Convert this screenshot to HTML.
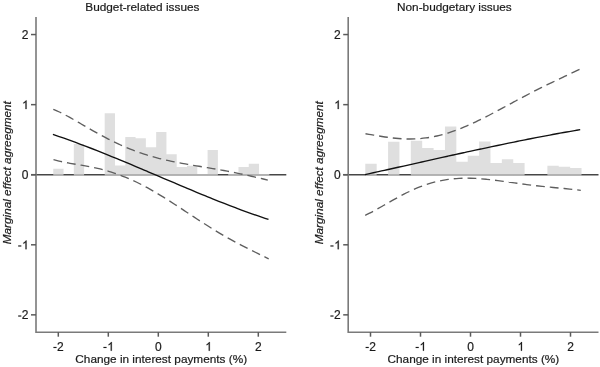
<!DOCTYPE html>
<html><head><meta charset="utf-8"><style>html,body{margin:0;padding:0;background:#fff;width:600px;height:367px;overflow:hidden}svg{display:block;will-change:transform}text{stroke:#1a1a1a;stroke-width:0.2px}</style></head>
<body><svg width="600" height="367" viewBox="0 0 600 367">
<rect width="600" height="367" fill="#fff"/>
<text x="85.3" y="10.7" font-family="Liberation Sans" font-size="11.8" fill="#1a1a1a">Budget-related issues</text>
<text x="397" y="10.7" font-family="Liberation Sans" font-size="11.8" fill="#1a1a1a">Non-budgetary issues</text>
<line x1="31" y1="174.7" x2="286.3" y2="174.7" stroke="#474747" stroke-width="1.5"/>
<path d="M53.25 168.80H63.54V175.50H53.25ZM73.83 143.90H84.12V175.50H73.83ZM104.70 113.20H114.99V175.50H104.70ZM114.99 165.40H125.28V175.50H114.99ZM125.28 137.10H135.57V175.50H125.28ZM135.57 138.30H145.86V175.50H135.57ZM145.86 147.20H156.15V175.50H145.86ZM156.15 132.00H166.44V175.50H156.15ZM166.44 154.30H176.73V175.50H166.44ZM176.73 166.90H187.02V175.50H176.73ZM187.02 165.80H197.31V175.50H187.02ZM197.31 174.00H207.60V175.50H197.31ZM207.60 150.00H217.89V175.50H207.60ZM228.18 174.00H238.47V175.50H228.18ZM238.47 167.00H248.76V175.50H238.47ZM248.76 163.80H259.05V175.50H248.76ZM259.05 174.00H269.34V175.50H259.05Z" fill="#d4d4d4" fill-opacity="0.75"/>
<path d="M36 17 V332.2 H286.3" fill="none" stroke="#7a7a7a" stroke-width="1.6"/>
<line x1="31" y1="34.55" x2="36" y2="34.55" stroke="#5a5a5a" stroke-width="1.5"/>
<text x="21.726" y="38.949999999999996" font-family="Liberation Sans" font-size="12.0" fill="#1a1a1a">2</text>
<line x1="31" y1="104.65" x2="36" y2="104.65" stroke="#5a5a5a" stroke-width="1.5"/>
<path d="M763 0H583V1147Q518 1085 413 1023Q308 961 224 930V1104Q375 1175 488 1276Q601 1377 648 1472H763Z" fill="#1a1a1a" stroke="#1a1a1a" stroke-width="40" stroke-linejoin="round" transform="translate(22.076 109.050) scale(0.005859 -0.005859)"/>
<line x1="31" y1="174.7" x2="36" y2="174.7" stroke="#5a5a5a" stroke-width="1.5"/>
<text x="21.726" y="179.1" font-family="Liberation Sans" font-size="12.0" fill="#1a1a1a">0</text>
<line x1="31" y1="244.8" x2="36" y2="244.8" stroke="#5a5a5a" stroke-width="1.5"/>
<rect x="18.170" y="245.391" width="3.164" height="1.172" fill="#1a1a1a"/><path d="M763 0H583V1147Q518 1085 413 1023Q308 961 224 930V1104Q375 1175 488 1276Q601 1377 648 1472H763Z" fill="#1a1a1a" stroke="#1a1a1a" stroke-width="40" stroke-linejoin="round" transform="translate(22.076 249.200) scale(0.005859 -0.005859)"/>
<line x1="31" y1="314.85" x2="36" y2="314.85" stroke="#5a5a5a" stroke-width="1.5"/>
<rect x="18.170" y="315.441" width="3.164" height="1.172" fill="#1a1a1a"/><text x="21.726" y="319.25" font-family="Liberation Sans" font-size="12.0" fill="#1a1a1a">2</text>
<line x1="58.3" y1="332.2" x2="58.3" y2="336.7" stroke="#5a5a5a" stroke-width="1.5"/>
<rect x="53.404" y="346.891" width="3.164" height="1.172" fill="#1a1a1a"/><text x="56.961" y="350.7" font-family="Liberation Sans" font-size="12.0" fill="#1a1a1a">2</text>
<line x1="108.3" y1="332.2" x2="108.3" y2="336.7" stroke="#5a5a5a" stroke-width="1.5"/>
<rect x="103.404" y="346.891" width="3.164" height="1.172" fill="#1a1a1a"/><path d="M763 0H583V1147Q518 1085 413 1023Q308 961 224 930V1104Q375 1175 488 1276Q601 1377 648 1472H763Z" fill="#1a1a1a" stroke="#1a1a1a" stroke-width="40" stroke-linejoin="round" transform="translate(107.311 350.700) scale(0.005859 -0.005859)"/>
<line x1="158.3" y1="332.2" x2="158.3" y2="336.7" stroke="#5a5a5a" stroke-width="1.5"/>
<text x="154.963" y="350.7" font-family="Liberation Sans" font-size="12.0" fill="#1a1a1a">0</text>
<line x1="208.3" y1="332.2" x2="208.3" y2="336.7" stroke="#5a5a5a" stroke-width="1.5"/>
<path d="M763 0H583V1147Q518 1085 413 1023Q308 961 224 930V1104Q375 1175 488 1276Q601 1377 648 1472H763Z" fill="#1a1a1a" stroke="#1a1a1a" stroke-width="40" stroke-linejoin="round" transform="translate(205.313 350.700) scale(0.005859 -0.005859)"/>
<line x1="258.3" y1="332.2" x2="258.3" y2="336.7" stroke="#5a5a5a" stroke-width="1.5"/>
<text x="254.963" y="350.7" font-family="Liberation Sans" font-size="12.0" fill="#1a1a1a">2</text>
<path d="M53.30 109.27 C54.22 109.68 56.97 110.88 58.80 111.75 C60.63 112.62 62.47 113.55 64.30 114.51 C66.13 115.46 67.97 116.45 69.80 117.46 C71.63 118.47 73.47 119.51 75.30 120.55 C77.13 121.59 78.97 122.65 80.80 123.71 C82.63 124.76 84.47 125.83 86.30 126.89 C88.13 127.95 89.97 129.01 91.80 130.05 C93.63 131.09 95.47 132.13 97.30 133.15 C99.13 134.17 100.97 135.17 102.80 136.16 C104.63 137.14 106.47 138.11 108.30 139.05 C110.13 139.99 111.97 140.91 113.80 141.81 C115.63 142.70 117.47 143.57 119.30 144.41 C121.13 145.25 122.97 146.07 124.80 146.86 C126.63 147.64 128.47 148.40 130.30 149.14 C132.13 149.87 133.97 150.57 135.80 151.25 C137.63 151.92 139.47 152.57 141.30 153.19 C143.13 153.81 144.97 154.41 146.80 154.98 C148.63 155.55 150.47 156.09 152.30 156.61 C154.13 157.13 155.97 157.63 157.80 158.10 C159.63 158.58 161.47 159.03 163.30 159.46 C165.13 159.90 166.97 160.31 168.80 160.71 C170.63 161.11 172.47 161.49 174.30 161.86 C176.13 162.23 177.97 162.59 179.80 162.93 C181.63 163.28 183.47 163.61 185.30 163.94 C187.13 164.26 188.97 164.58 190.80 164.89 C192.63 165.21 194.47 165.51 196.30 165.82 C198.13 166.12 199.97 166.43 201.80 166.73 C203.63 167.03 205.47 167.34 207.30 167.64 C209.13 167.95 210.97 168.26 212.80 168.57 C214.63 168.89 216.47 169.21 218.30 169.53 C220.13 169.86 221.97 170.19 223.80 170.53 C225.63 170.87 227.47 171.21 229.30 171.57 C231.13 171.92 232.97 172.29 234.80 172.66 C236.63 173.03 238.47 173.41 240.30 173.80 C242.13 174.19 243.97 174.59 245.80 174.99 C247.63 175.40 249.47 175.81 251.30 176.23 C253.13 176.64 254.97 177.07 256.80 177.49 C258.63 177.92 260.47 178.35 262.30 178.77 C264.13 179.20 266.88 179.84 267.80 180.05" fill="none" stroke="#5e5e5e" stroke-width="1.35" stroke-dasharray="8.8 5"/>
<path d="M53.50 159.67 C54.42 159.91 57.18 160.66 59.02 161.10 C60.86 161.53 62.70 161.91 64.54 162.28 C66.38 162.65 68.21 162.98 70.05 163.31 C71.89 163.64 73.73 163.95 75.57 164.26 C77.41 164.57 79.25 164.88 81.09 165.19 C82.93 165.51 84.77 165.83 86.61 166.17 C88.45 166.51 90.29 166.85 92.13 167.23 C93.96 167.60 95.80 168.00 97.64 168.42 C99.48 168.84 101.32 169.29 103.16 169.76 C105.00 170.24 106.84 170.75 108.68 171.29 C110.52 171.83 112.36 172.41 114.20 173.02 C116.04 173.63 117.88 174.27 119.72 174.95 C121.55 175.63 123.39 176.35 125.23 177.10 C127.07 177.85 128.91 178.63 130.75 179.45 C132.59 180.27 134.43 181.13 136.27 182.01 C138.11 182.90 139.95 183.82 141.79 184.77 C143.63 185.72 145.47 186.70 147.31 187.71 C149.14 188.72 150.98 189.76 152.82 190.81 C154.66 191.87 156.50 192.96 158.34 194.06 C160.18 195.17 162.02 196.30 163.86 197.44 C165.70 198.58 167.54 199.74 169.38 200.91 C171.22 202.09 173.06 203.27 174.89 204.47 C176.73 205.66 178.57 206.86 180.41 208.07 C182.25 209.28 184.09 210.49 185.93 211.70 C187.77 212.91 189.61 214.13 191.45 215.34 C193.29 216.54 195.13 217.75 196.97 218.95 C198.81 220.15 200.65 221.34 202.48 222.52 C204.32 223.70 206.16 224.88 208.00 226.03 C209.84 227.19 211.68 228.34 213.52 229.47 C215.36 230.60 217.20 231.71 219.04 232.81 C220.88 233.91 222.72 234.99 224.56 236.05 C226.40 237.11 228.24 238.16 230.07 239.18 C231.91 240.21 233.75 241.22 235.59 242.21 C237.43 243.20 239.27 244.17 241.11 245.13 C242.95 246.09 244.79 247.03 246.63 247.96 C248.47 248.89 250.31 249.80 252.15 250.71 C253.99 251.62 255.82 252.51 257.66 253.41 C259.50 254.30 261.34 255.19 263.18 256.08 C265.02 256.98 267.78 258.32 268.70 258.77" fill="none" stroke="#5e5e5e" stroke-width="1.35" stroke-dasharray="8.8 5"/>
<path d="M52.90 134.40 C53.82 134.72 56.59 135.65 58.43 136.28 C60.27 136.92 62.11 137.56 63.96 138.21 C65.80 138.86 67.64 139.52 69.48 140.18 C71.33 140.85 73.17 141.52 75.01 142.20 C76.86 142.88 78.70 143.57 80.54 144.26 C82.38 144.96 84.23 145.66 86.07 146.36 C87.91 147.07 89.75 147.78 91.60 148.50 C93.44 149.22 95.28 149.94 97.13 150.67 C98.97 151.39 100.81 152.13 102.65 152.87 C104.50 153.60 106.34 154.35 108.18 155.09 C110.02 155.84 111.87 156.59 113.71 157.35 C115.55 158.10 117.40 158.86 119.24 159.62 C121.08 160.38 122.92 161.15 124.77 161.91 C126.61 162.68 128.45 163.45 130.29 164.23 C132.14 165.00 133.98 165.77 135.82 166.55 C137.67 167.33 139.51 168.11 141.35 168.89 C143.19 169.67 145.04 170.45 146.88 171.23 C148.72 172.02 150.56 172.80 152.41 173.59 C154.25 174.37 156.09 175.15 157.94 175.94 C159.78 176.72 161.62 177.51 163.46 178.29 C165.31 179.08 167.15 179.86 168.99 180.65 C170.84 181.43 172.68 182.21 174.52 182.99 C176.36 183.78 178.21 184.56 180.05 185.33 C181.89 186.11 183.73 186.89 185.58 187.66 C187.42 188.44 189.26 189.21 191.11 189.98 C192.95 190.75 194.79 191.51 196.63 192.28 C198.48 193.04 200.32 193.80 202.16 194.56 C204.00 195.31 205.85 196.07 207.69 196.82 C209.53 197.57 211.38 198.31 213.22 199.05 C215.06 199.79 216.90 200.53 218.75 201.26 C220.59 201.99 222.43 202.72 224.27 203.44 C226.12 204.16 227.96 204.87 229.80 205.58 C231.65 206.29 233.49 207.00 235.33 207.69 C237.17 208.39 239.02 209.08 240.86 209.76 C242.70 210.45 244.54 211.13 246.39 211.80 C248.23 212.46 250.07 213.13 251.92 213.78 C253.76 214.44 255.60 215.08 257.44 215.72 C259.29 216.36 261.13 216.99 262.97 217.62 C264.81 218.24 267.58 219.15 268.50 219.46" fill="none" stroke="#111" stroke-width="1.35"/>
<text x="75.3" y="362.6" font-family="Liberation Sans" font-size="11.8" fill="#1a1a1a">Change in interest payments (%)</text>
<text x="10.9" y="244.2" font-family="Liberation Sans" font-size="11.75" font-style="italic" fill="#1a1a1a" transform="rotate(-90 10.9 244.2)">Marginal effect agreegment</text>
<line x1="343.2" y1="174.7" x2="598.5" y2="174.7" stroke="#474747" stroke-width="1.5"/>
<path d="M365.30 163.80H376.68V175.50H365.30ZM388.06 141.80H399.44V175.50H388.06ZM410.82 140.80H422.20V175.50H410.82ZM422.20 148.10H433.58V175.50H422.20ZM433.58 149.90H444.96V175.50H433.58ZM444.96 126.50H456.34V175.50H444.96ZM456.34 161.70H467.72V175.50H456.34ZM467.72 155.70H479.10V175.50H467.72ZM479.10 141.60H490.48V175.50H479.10ZM490.48 162.90H501.86V175.50H490.48ZM501.86 159.20H513.24V175.50H501.86ZM513.24 163.00H524.62V175.50H513.24ZM547.38 165.80H558.76V175.50H547.38ZM558.76 166.70H570.14V175.50H558.76ZM570.14 168.00H581.52V175.50H570.14Z" fill="#d4d4d4" fill-opacity="0.75"/>
<path d="M348.2 17 V332.2 H598.5" fill="none" stroke="#7a7a7a" stroke-width="1.6"/>
<line x1="343.2" y1="34.55" x2="348.2" y2="34.55" stroke="#5a5a5a" stroke-width="1.5"/>
<text x="333.926" y="38.949999999999996" font-family="Liberation Sans" font-size="12.0" fill="#1a1a1a">2</text>
<line x1="343.2" y1="104.65" x2="348.2" y2="104.65" stroke="#5a5a5a" stroke-width="1.5"/>
<path d="M763 0H583V1147Q518 1085 413 1023Q308 961 224 930V1104Q375 1175 488 1276Q601 1377 648 1472H763Z" fill="#1a1a1a" stroke="#1a1a1a" stroke-width="40" stroke-linejoin="round" transform="translate(334.276 109.050) scale(0.005859 -0.005859)"/>
<line x1="343.2" y1="174.7" x2="348.2" y2="174.7" stroke="#5a5a5a" stroke-width="1.5"/>
<text x="333.926" y="179.1" font-family="Liberation Sans" font-size="12.0" fill="#1a1a1a">0</text>
<line x1="343.2" y1="244.8" x2="348.2" y2="244.8" stroke="#5a5a5a" stroke-width="1.5"/>
<rect x="330.370" y="245.391" width="3.164" height="1.172" fill="#1a1a1a"/><path d="M763 0H583V1147Q518 1085 413 1023Q308 961 224 930V1104Q375 1175 488 1276Q601 1377 648 1472H763Z" fill="#1a1a1a" stroke="#1a1a1a" stroke-width="40" stroke-linejoin="round" transform="translate(334.276 249.200) scale(0.005859 -0.005859)"/>
<line x1="343.2" y1="314.85" x2="348.2" y2="314.85" stroke="#5a5a5a" stroke-width="1.5"/>
<rect x="330.370" y="315.441" width="3.164" height="1.172" fill="#1a1a1a"/><text x="333.926" y="319.25" font-family="Liberation Sans" font-size="12.0" fill="#1a1a1a">2</text>
<line x1="370.5" y1="332.2" x2="370.5" y2="336.7" stroke="#5a5a5a" stroke-width="1.5"/>
<rect x="365.604" y="346.891" width="3.164" height="1.172" fill="#1a1a1a"/><text x="369.161" y="350.7" font-family="Liberation Sans" font-size="12.0" fill="#1a1a1a">2</text>
<line x1="420.5" y1="332.2" x2="420.5" y2="336.7" stroke="#5a5a5a" stroke-width="1.5"/>
<rect x="415.604" y="346.891" width="3.164" height="1.172" fill="#1a1a1a"/><path d="M763 0H583V1147Q518 1085 413 1023Q308 961 224 930V1104Q375 1175 488 1276Q601 1377 648 1472H763Z" fill="#1a1a1a" stroke="#1a1a1a" stroke-width="40" stroke-linejoin="round" transform="translate(419.511 350.700) scale(0.005859 -0.005859)"/>
<line x1="470.5" y1="332.2" x2="470.5" y2="336.7" stroke="#5a5a5a" stroke-width="1.5"/>
<text x="467.163" y="350.7" font-family="Liberation Sans" font-size="12.0" fill="#1a1a1a">0</text>
<line x1="520.5" y1="332.2" x2="520.5" y2="336.7" stroke="#5a5a5a" stroke-width="1.5"/>
<path d="M763 0H583V1147Q518 1085 413 1023Q308 961 224 930V1104Q375 1175 488 1276Q601 1377 648 1472H763Z" fill="#1a1a1a" stroke="#1a1a1a" stroke-width="40" stroke-linejoin="round" transform="translate(517.513 350.700) scale(0.005859 -0.005859)"/>
<line x1="570.5" y1="332.2" x2="570.5" y2="336.7" stroke="#5a5a5a" stroke-width="1.5"/>
<text x="567.163" y="350.7" font-family="Liberation Sans" font-size="12.0" fill="#1a1a1a">2</text>
<path d="M365.50 133.76 C366.42 133.91 369.16 134.34 370.99 134.64 C372.82 134.94 374.65 135.26 376.48 135.56 C378.32 135.86 380.15 136.17 381.98 136.46 C383.81 136.75 385.64 137.03 387.47 137.28 C389.30 137.53 391.13 137.77 392.96 137.98 C394.79 138.19 396.62 138.37 398.45 138.52 C400.28 138.67 402.12 138.79 403.95 138.87 C405.78 138.95 407.61 139.00 409.44 139.00 C411.27 139.01 413.10 138.98 414.93 138.90 C416.76 138.83 418.59 138.71 420.42 138.55 C422.25 138.40 424.08 138.20 425.92 137.95 C427.75 137.71 429.58 137.43 431.41 137.10 C433.24 136.77 435.07 136.40 436.90 135.99 C438.73 135.58 440.56 135.12 442.39 134.63 C444.22 134.14 446.05 133.61 447.88 133.04 C449.72 132.47 451.55 131.86 453.38 131.22 C455.21 130.58 457.04 129.90 458.87 129.19 C460.70 128.49 462.53 127.74 464.36 126.98 C466.19 126.21 468.02 125.41 469.85 124.59 C471.68 123.77 473.52 122.92 475.35 122.05 C477.18 121.18 479.01 120.29 480.84 119.38 C482.67 118.48 484.50 117.55 486.33 116.61 C488.16 115.68 489.99 114.72 491.82 113.76 C493.65 112.80 495.48 111.82 497.32 110.85 C499.15 109.87 500.98 108.88 502.81 107.90 C504.64 106.91 506.47 105.92 508.30 104.93 C510.13 103.94 511.96 102.95 513.79 101.96 C515.62 100.98 517.45 99.99 519.28 99.02 C521.12 98.04 522.95 97.07 524.78 96.10 C526.61 95.14 528.44 94.18 530.27 93.23 C532.10 92.28 533.93 91.34 535.76 90.41 C537.59 89.48 539.42 88.56 541.25 87.65 C543.08 86.74 544.92 85.84 546.75 84.95 C548.58 84.05 550.41 83.17 552.24 82.30 C554.07 81.42 555.90 80.55 557.73 79.69 C559.56 78.82 561.39 77.96 563.22 77.10 C565.05 76.24 566.88 75.39 568.72 74.53 C570.55 73.66 572.38 72.80 574.21 71.93 C576.04 71.05 578.78 69.71 579.70 69.27" fill="none" stroke="#5e5e5e" stroke-width="1.35" stroke-dasharray="8.8 5"/>
<path d="M365.20 215.31 C366.12 214.85 368.89 213.52 370.73 212.57 C372.57 211.62 374.41 210.61 376.26 209.59 C378.10 208.58 379.94 207.53 381.78 206.48 C383.63 205.44 385.47 204.37 387.31 203.32 C389.16 202.27 391.00 201.21 392.84 200.18 C394.68 199.14 396.53 198.12 398.37 197.12 C400.21 196.13 402.05 195.15 403.90 194.21 C405.74 193.26 407.58 192.35 409.43 191.47 C411.27 190.60 413.11 189.76 414.95 188.96 C416.80 188.16 418.64 187.40 420.48 186.69 C422.32 185.97 424.17 185.30 426.01 184.68 C427.85 184.06 429.70 183.48 431.54 182.95 C433.38 182.41 435.22 181.93 437.07 181.49 C438.91 181.05 440.75 180.66 442.59 180.31 C444.44 179.96 446.28 179.66 448.12 179.41 C449.97 179.15 451.81 178.93 453.65 178.76 C455.49 178.59 457.34 178.46 459.18 178.36 C461.02 178.26 462.86 178.21 464.71 178.19 C466.55 178.16 468.39 178.18 470.24 178.22 C472.08 178.26 473.92 178.34 475.76 178.44 C477.61 178.53 479.45 178.66 481.29 178.81 C483.14 178.96 484.98 179.13 486.82 179.31 C488.66 179.50 490.51 179.71 492.35 179.92 C494.19 180.14 496.03 180.37 497.88 180.61 C499.72 180.85 501.56 181.10 503.41 181.35 C505.25 181.61 507.09 181.87 508.93 182.13 C510.78 182.38 512.62 182.65 514.46 182.91 C516.30 183.16 518.15 183.42 519.99 183.67 C521.83 183.93 523.68 184.17 525.52 184.41 C527.36 184.66 529.20 184.89 531.05 185.12 C532.89 185.34 534.73 185.56 536.57 185.77 C538.42 185.98 540.26 186.18 542.10 186.38 C543.95 186.57 545.79 186.76 547.63 186.94 C549.47 187.12 551.32 187.30 553.16 187.47 C555.00 187.64 556.84 187.81 558.69 187.98 C560.53 188.15 562.37 188.31 564.22 188.49 C566.06 188.67 567.90 188.85 569.74 189.05 C571.59 189.24 573.43 189.45 575.27 189.68 C577.11 189.91 579.88 190.32 580.80 190.45" fill="none" stroke="#5e5e5e" stroke-width="1.35" stroke-dasharray="8.8 5"/>
<path d="M365.00 174.60 C365.92 174.39 368.68 173.79 370.52 173.39 C372.36 172.98 374.20 172.58 376.04 172.17 C377.88 171.77 379.71 171.36 381.55 170.95 C383.39 170.54 385.23 170.14 387.07 169.73 C388.91 169.32 390.75 168.91 392.59 168.50 C394.43 168.09 396.27 167.68 398.11 167.27 C399.95 166.86 401.79 166.45 403.63 166.04 C405.46 165.63 407.30 165.22 409.14 164.81 C410.98 164.40 412.82 163.99 414.66 163.57 C416.50 163.16 418.34 162.75 420.18 162.34 C422.02 161.93 423.86 161.52 425.70 161.11 C427.54 160.70 429.38 160.29 431.22 159.88 C433.05 159.47 434.89 159.06 436.73 158.65 C438.57 158.24 440.41 157.83 442.25 157.42 C444.09 157.02 445.93 156.61 447.77 156.20 C449.61 155.80 451.45 155.39 453.29 154.98 C455.13 154.58 456.97 154.17 458.81 153.77 C460.64 153.37 462.48 152.96 464.32 152.56 C466.16 152.16 468.00 151.76 469.84 151.36 C471.68 150.96 473.52 150.56 475.36 150.17 C477.20 149.77 479.04 149.37 480.88 148.98 C482.72 148.59 484.56 148.19 486.39 147.80 C488.23 147.41 490.07 147.02 491.91 146.63 C493.75 146.24 495.59 145.85 497.43 145.47 C499.27 145.08 501.11 144.70 502.95 144.32 C504.79 143.94 506.63 143.56 508.47 143.18 C510.31 142.80 512.15 142.42 513.98 142.05 C515.82 141.68 517.66 141.30 519.50 140.93 C521.34 140.56 523.18 140.20 525.02 139.83 C526.86 139.47 528.70 139.10 530.54 138.74 C532.38 138.38 534.22 138.02 536.06 137.67 C537.90 137.31 539.74 136.96 541.57 136.61 C543.41 136.26 545.25 135.91 547.09 135.56 C548.93 135.22 550.77 134.87 552.61 134.53 C554.45 134.19 556.29 133.85 558.13 133.52 C559.97 133.19 561.81 132.85 563.65 132.53 C565.49 132.20 567.32 131.87 569.16 131.55 C571.00 131.23 572.84 130.91 574.68 130.59 C576.52 130.28 579.28 129.81 580.20 129.66" fill="none" stroke="#111" stroke-width="1.35"/>
<text x="387.5" y="362.6" font-family="Liberation Sans" font-size="11.8" fill="#1a1a1a">Change in interest payments (%)</text>
<text x="323.09999999999997" y="244.2" font-family="Liberation Sans" font-size="11.75" font-style="italic" fill="#1a1a1a" transform="rotate(-90 323.09999999999997 244.2)">Marginal effect agreegment</text>
</svg></body></html>
